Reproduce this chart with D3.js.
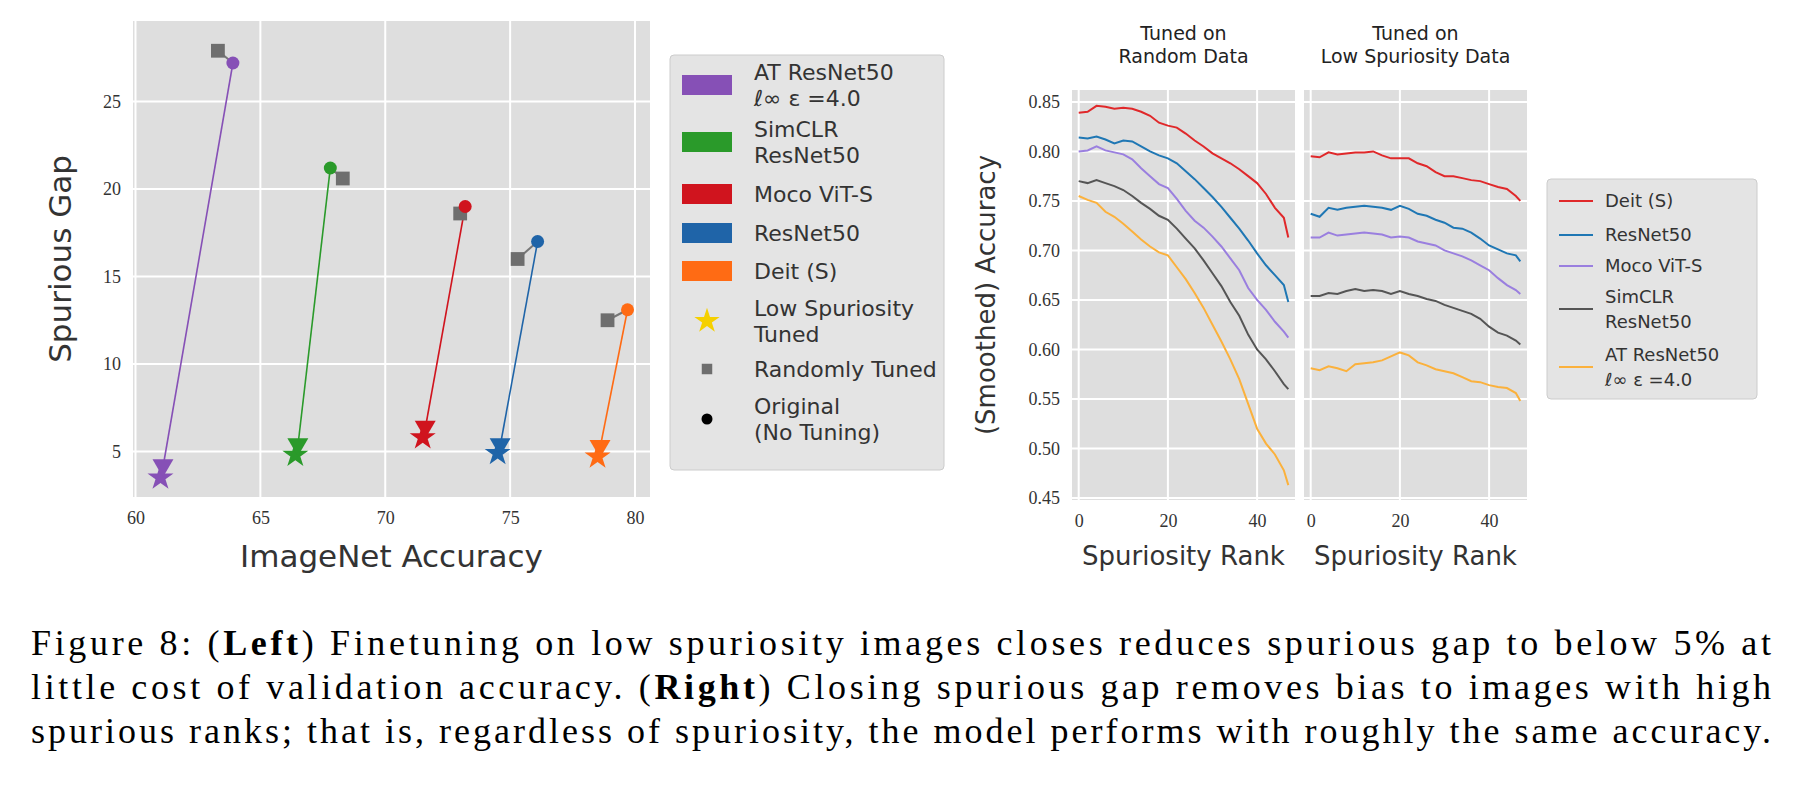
<!DOCTYPE html>
<html><head><meta charset="utf-8">
<script src="https://cdn.jsdelivr.net/npm/d3@7"></script>
<style>body{margin:0;background:#fff}</style>
</head><body>
<script>
// ---- data: left panel (ImageNet accuracy vs spurious gap) ----
const models = ["AT ResNet50", "SimCLR ResNet50", "Moco ViT-S", "ResNet50", "Deit (S)"];
const modelColors = ["#8650b6", "#2a9a2a", "#d0141e", "#1f64a8", "#ff6b14"];
const origAcc = [63.9, 67.8, 73.2, 76.1, 79.7];
const origGap = [27.2, 21.2, 19.0, 17.0, 13.1];
const randAcc = [63.3, 68.3, 73.0, 75.3, 78.9];
const randGap = [27.9, 20.6, 18.6, 16.0, 12.5];
const lowAcc = [61.1, 66.5, 71.6, 74.6, 78.6];
const lowGap = [4.1, 5.3, 6.3, 5.3, 5.2];
const starAcc = [61.0, 66.4, 71.5, 74.5, 78.5];
const starGap = [3.5, 4.8, 5.8, 4.9, 4.7];
const leftXTicks = [60, 65, 70, 75, 80];
const leftYTicks = [5, 10, 15, 20, 25];

// ---- data: right panels (accuracy vs spuriosity rank) ----
const ranks = [0,2,4,6,8,10,12,14,16,18,20,22,24,26,28,30,32,34,36,38,40,42,44,46,47];
const rightSeries = ["Deit (S)", "ResNet50", "Moco ViT-S", "SimCLR ResNet50", "AT ResNet50"];
const rightColors = ["#e0282a", "#1f77b4", "#9a7fdf", "#555555", "#fbb13c"];
const randomTuned = [
  [0.839,0.840,0.846,0.845,0.843,0.844,0.843,0.840,0.836,0.829,0.826,0.824,0.818,0.811,0.805,0.798,0.793,0.788,0.782,0.775,0.768,0.757,0.743,0.733,0.713],
  [0.814,0.813,0.815,0.812,0.808,0.811,0.810,0.805,0.800,0.796,0.793,0.788,0.780,0.772,0.763,0.754,0.744,0.733,0.722,0.710,0.697,0.685,0.675,0.665,0.648],
  [0.800,0.801,0.805,0.801,0.799,0.797,0.792,0.783,0.775,0.767,0.763,0.752,0.740,0.730,0.723,0.714,0.704,0.692,0.680,0.662,0.650,0.640,0.628,0.618,0.612],
  [0.770,0.768,0.771,0.768,0.765,0.761,0.755,0.748,0.742,0.735,0.731,0.722,0.712,0.702,0.690,0.677,0.664,0.648,0.634,0.615,0.600,0.590,0.578,0.565,0.560],
  [0.755,0.751,0.748,0.739,0.734,0.727,0.719,0.711,0.704,0.698,0.695,0.683,0.671,0.657,0.642,0.625,0.608,0.590,0.570,0.545,0.520,0.505,0.494,0.478,0.463]
];
const lowSpurTuned = [
  [0.795,0.794,0.799,0.797,0.798,0.799,0.799,0.800,0.796,0.793,0.793,0.793,0.788,0.785,0.779,0.775,0.775,0.773,0.771,0.770,0.767,0.764,0.762,0.755,0.750],
  [0.737,0.734,0.743,0.741,0.743,0.744,0.745,0.744,0.743,0.741,0.745,0.742,0.737,0.735,0.731,0.728,0.723,0.722,0.718,0.712,0.705,0.701,0.697,0.695,0.689],
  [0.713,0.713,0.718,0.715,0.716,0.717,0.718,0.717,0.716,0.713,0.714,0.713,0.709,0.707,0.705,0.700,0.697,0.694,0.690,0.685,0.680,0.672,0.665,0.660,0.656],
  [0.654,0.654,0.657,0.656,0.659,0.661,0.659,0.660,0.659,0.656,0.659,0.656,0.654,0.651,0.649,0.645,0.642,0.639,0.636,0.631,0.623,0.617,0.614,0.609,0.605],
  [0.581,0.579,0.583,0.581,0.578,0.585,0.586,0.587,0.589,0.593,0.597,0.594,0.587,0.584,0.580,0.578,0.576,0.572,0.568,0.567,0.564,0.562,0.561,0.556,0.548]
];
const rightYTicks = [0.45,0.50,0.55,0.60,0.65,0.70,0.75,0.80,0.85];
const rightXTicks = [0, 20, 40];

const W = 1806, H = 790;
const BG = "#dedede";
const SANS = "'DejaVu Sans', sans-serif";
const SERIF = "'Liberation Serif', 'DejaVu Serif', serif";

const svg = d3.select("body").append("svg").attr("width", W).attr("height", H);

function gridAxes(g, x, y, xt, yt, w, h, yfmt) {
  g.append("rect").attr("width", w).attr("height", h).attr("fill", BG);
  g.selectAll(".gx").data(xt).join("line").attr("x1", d => x(d)).attr("x2", d => x(d))
    .attr("y1", 0).attr("y2", h).attr("stroke", "#fff").attr("stroke-width", 2);
  g.selectAll(".gy").data(yt).join("line").attr("y1", d => y(d)).attr("y2", d => y(d))
    .attr("x1", 0).attr("x2", w).attr("stroke", "#fff").attr("stroke-width", 2);
  const ax = g.append("g").attr("transform", `translate(0,${h})`)
    .call(d3.axisBottom(x).tickValues(xt).tickSize(0).tickPadding(14));
  ax.select(".domain").remove();
  ax.selectAll("text").attr("font-family", SERIF).attr("font-size", 18).attr("fill", "#333");
  if (yfmt !== null) {
    const ay = g.append("g").call(d3.axisLeft(y).tickValues(yt).tickSize(0).tickPadding(12).tickFormat(yfmt));
    ay.select(".domain").remove();
    ay.selectAll("text").attr("font-family", SERIF).attr("font-size", 18).attr("fill", "#333");
  }
}

// ---------- left panel ----------
const L = {x: 133, y: 21, w: 517, h: 476};
const lx = d3.scaleLinear().domain([59.9, 80.6]).range([0, L.w]);
const ly = d3.scaleLinear().domain([2.4, 29.6]).range([L.h, 0]);
const gl = svg.append("g").attr("transform", `translate(${L.x},${L.y})`);
gridAxes(gl, lx, ly, leftXTicks, leftYTicks, L.w, L.h, d3.format("d"));
gl.append("text").attr("x", L.w / 2).attr("y", L.h + 70).attr("text-anchor", "middle")
  .attr("font-family", SANS).attr("font-size", 31).attr("fill", "#333").text("ImageNet Accuracy");
gl.append("text").attr("transform", `translate(-62,${L.h / 2}) rotate(-90)`).attr("text-anchor", "middle")
  .attr("font-family", SANS).attr("font-size", 31).attr("fill", "#333").text("Spurious Gap");

const star = d3.symbol().type(d3.symbolStar).size(210);
const tri = d3.symbol().type(d3.symbolTriangle).size(190);
const sq = d3.symbol().type(d3.symbolSquare).size(190);

models.forEach((m, i) => {
  const c = modelColors[i];
  gl.append("line").attr("x1", lx(origAcc[i])).attr("y1", ly(origGap[i]))
    .attr("x2", lx(randAcc[i])).attr("y2", ly(randGap[i])).attr("stroke", "#777").attr("stroke-width", 2);
  gl.append("line").attr("x1", lx(origAcc[i])).attr("y1", ly(origGap[i]))
    .attr("x2", lx(lowAcc[i])).attr("y2", ly(lowGap[i])).attr("stroke", c).attr("stroke-width", 1.6);
  gl.append("path").attr("d", sq).attr("fill", "#6e6e6e")
    .attr("transform", `translate(${lx(randAcc[i])},${ly(randGap[i])})`);
  gl.append("circle").attr("cx", lx(origAcc[i])).attr("cy", ly(origGap[i])).attr("r", 6.5).attr("fill", c);
  gl.append("path").attr("d", star).attr("fill", c)
    .attr("transform", `translate(${lx(starAcc[i])},${ly(starGap[i])})`);
  gl.append("path").attr("d", tri).attr("fill", c)
    .attr("transform", `translate(${lx(lowAcc[i])},${ly(lowGap[i]) - 2}) rotate(180)`);
});

// left legend
const lg = svg.append("g").attr("transform", "translate(670,55)");
lg.append("rect").attr("width", 274).attr("height", 415).attr("rx", 4)
  .attr("fill", "#e4e4e4").attr("stroke", "#ccc");
const legRows = [
  {lines: ["AT ResNet50", "ℓ∞ ε =4.0"], cy: 30, kind: "patch", c: modelColors[0]},
  {lines: ["SimCLR", "ResNet50"], cy: 87, kind: "patch", c: modelColors[1]},
  {lines: ["Moco ViT-S"], cy: 139, kind: "patch", c: modelColors[2]},
  {lines: ["ResNet50"], cy: 178, kind: "patch", c: modelColors[3]},
  {lines: ["Deit (S)"], cy: 216, kind: "patch", c: modelColors[4]},
  {lines: ["Low Spuriosity", "Tuned"], cy: 266, kind: "star", c: "#f5d000"},
  {lines: ["Randomly Tuned"], cy: 314, kind: "sq", c: "#6e6e6e"},
  {lines: ["Original", "(No Tuning)"], cy: 364, kind: "dot", c: "#000"}
];
legRows.forEach(r => {
  if (r.kind === "patch") lg.append("rect").attr("x", 12).attr("y", r.cy - 10).attr("width", 50).attr("height", 20).attr("fill", r.c);
  if (r.kind === "star") lg.append("path").attr("d", d3.symbol().type(d3.symbolStar).size(200)).attr("fill", r.c).attr("transform", `translate(37,${r.cy})`);
  if (r.kind === "sq") lg.append("path").attr("d", d3.symbol().type(d3.symbolSquare).size(110)).attr("fill", r.c).attr("transform", `translate(37,${r.cy})`);
  if (r.kind === "dot") lg.append("circle").attr("cx", 37).attr("cy", r.cy).attr("r", 5.5).attr("fill", r.c);
  const t = lg.append("text").attr("font-family", SANS).attr("font-size", 22).attr("fill", "#333");
  const y0 = r.cy - (r.lines.length - 1) * 13 + 8;
  r.lines.forEach((s, k) => t.append("tspan").attr("x", 84).attr("y", y0 + k * 26).text(s));
});

// ---------- right panels ----------
const R = {y: 90, w: 223, h: 410};
const panels = [
  {x: 1072, title: ["Tuned on", "Random Data"], data: randomTuned, yaxis: true},
  {x: 1304, title: ["Tuned on", "Low Spuriosity Data"], data: lowSpurTuned, yaxis: false}
];
const ry = d3.scaleLinear().domain([0.448, 0.862]).range([R.h, 0]);
const rx = d3.scaleLinear().domain([-1.5, 48.5]).range([0, R.w]);
panels.forEach(p => {
  const g = svg.append("g").attr("transform", `translate(${p.x},${R.y})`);
  gridAxes(g, rx, ry, rightXTicks, rightYTicks, R.w, R.h, p.yaxis ? d3.format(".2f") : null);
  const line = d3.line().x((d, j) => rx(ranks[j])).y(d => ry(d));
  p.data.forEach((s, i) => g.append("path").attr("d", line(s)).attr("fill", "none")
    .attr("stroke", rightColors[i]).attr("stroke-width", 2));
  const t = g.append("text").attr("text-anchor", "middle").attr("font-family", SANS).attr("font-size", 19).attr("fill", "#222");
  p.title.forEach((s, k) => t.append("tspan").attr("x", R.w / 2).attr("y", -50 + k * 23).text(s));
  g.append("text").attr("x", R.w / 2).attr("y", R.h + 65).attr("text-anchor", "middle")
    .attr("font-family", SANS).attr("font-size", 26).attr("fill", "#333").text("Spuriosity Rank");
  if (p.yaxis) g.append("text").attr("transform", `translate(-77,${R.h / 2}) rotate(-90)`).attr("text-anchor", "middle")
    .attr("font-family", SANS).attr("font-size", 26).attr("fill", "#333").text("(Smoothed) Accuracy");
});

// right legend
const rg = svg.append("g").attr("transform", "translate(1547,179)");
rg.append("rect").attr("width", 210).attr("height", 220).attr("rx", 4).attr("fill", "#e4e4e4").attr("stroke", "#ccc");
const rRows = [
  {lines: ["Deit (S)"], cy: 22},
  {lines: ["ResNet50"], cy: 56},
  {lines: ["Moco ViT-S"], cy: 87},
  {lines: ["SimCLR", "ResNet50"], cy: 130},
  {lines: ["AT ResNet50", "ℓ∞ ε =4.0"], cy: 188}
];
rRows.forEach((r, i) => {
  rg.append("line").attr("x1", 12).attr("x2", 46).attr("y1", r.cy).attr("y2", r.cy)
    .attr("stroke", rightColors[i]).attr("stroke-width", 2);
  const t = rg.append("text").attr("font-family", SANS).attr("font-size", 18).attr("fill", "#333");
  const y0 = r.cy - (r.lines.length - 1) * 12.5 + 6;
  r.lines.forEach((s, k) => t.append("tspan").attr("x", 58).attr("y", y0 + k * 25).text(s));
});

// ---------- caption ----------
const cap = [
  [["Figure 8: (", false], ["Left", true], [") Finetuning on low spuriosity images closes reduces spurious gap to below 5% at", false]],
  [["little cost of validation accuracy. (", false], ["Right", true], [") Closing spurious gap removes bias to images with high", false]],
  [["spurious ranks; that is, regardless of spuriosity, the model performs with roughly the same accuracy.", false]]
];
cap.forEach((parts, k) => {
  const t = svg.append("text").attr("x", 31).attr("y", 655 + k * 44)
    .attr("font-family", SERIF).attr("font-size", 36).attr("fill", "#000")
    .attr("textLength", 1740).attr("lengthAdjust", "spacing");
  parts.forEach(([s, b]) => t.append("tspan").attr("font-weight", b ? "bold" : "normal").text(s));
});
</script>
</body></html>
